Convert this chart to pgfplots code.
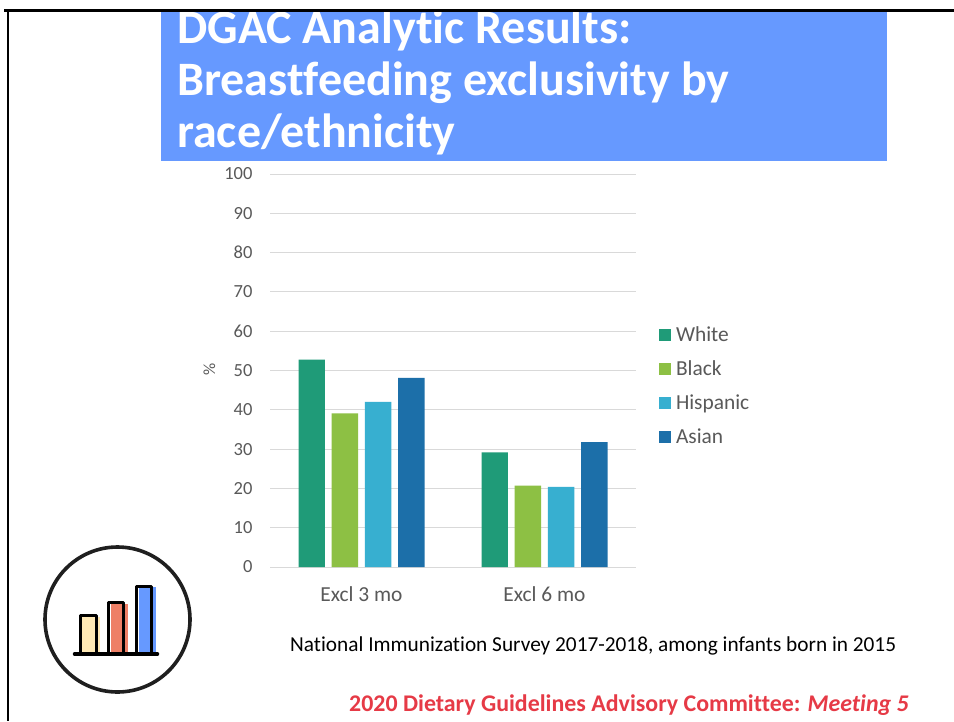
\documentclass[border=0pt]{standalone}
\usepackage{pgfplots}
\pgfplotsset{compat=1.18}
\usepackage{fontspec}
\setmainfont[Ligatures=NoCommon]{Carlito}
\definecolor{bannerblue}{HTML}{6699FF}
\definecolor{labelgray}{HTML}{595959}
\definecolor{gridgray}{HTML}{D9D9D9}
\definecolor{cWhite}{HTML}{1F9B78}
\definecolor{cBlack}{HTML}{8DC044}
\definecolor{cHispanic}{HTML}{37AFD0}
\definecolor{cAsian}{HTML}{1C6FA9}
\definecolor{footred}{HTML}{E63A46}
\definecolor{iconyellow}{HTML}{FFE9B5}
\definecolor{iconsalmon}{HTML}{EE7F66}
\begin{document}
\begin{tikzpicture}
% page, frame and banner in a top-left pixel grid
\begin{scope}[x=1pt,y=-1pt]
\path[use as bounding box] (0,0) rectangle (954,721);
\fill[white] (0,0) rectangle (954,721);
\fill[black] (4,9.3) rectangle (954,12);
\fill[black] (6.5,9.3) rectangle (9.3,721);
\begin{scope}
\clip (161,12) rectangle (887,161);
\fill[bannerblue] (161,12) rectangle (887,161);
\node[anchor=base west,inner sep=0pt,text=white,font=\fontsize{48}{52}\selectfont\bfseries] at (177,43) {DGAC Analytic Results:};
\node[anchor=base west,inner sep=0pt,text=white,font=\fontsize{48}{52}\selectfont\bfseries] at (177,95) {Breastfeeding exclusivity by};
\node[anchor=base west,inner sep=0pt,text=white,font=\fontsize{48}{52}\selectfont\bfseries] at (177,147.5) {race/ethnicity};
\end{scope}
% round chart icon
\draw[black!88,line width=3.6pt,fill=white] (117.5,619.5) circle (72.5);
\fill[iconyellow] (82,617) rectangle (100,654);
\fill[iconsalmon] (111,604) rectangle (128,654);
\fill[bannerblue] (139,587) rectangle (156,654);
\draw[black,line width=3.5pt,line join=round] (80.5,654) -- (80.5,615.5) -- (96.5,615.5) -- (96.5,654);
\draw[black,line width=3.5pt,line join=round] (108.5,654) -- (108.5,602.5) -- (123.5,602.5) -- (123.5,654);
\draw[black,line width=3.5pt,line join=round] (136.5,654) -- (136.5,586.5) -- (151.5,586.5) -- (151.5,654);
\draw[black,line width=3.5pt,line cap=round] (74.5,654) -- (157.5,654);
% source line and committee line
\node[anchor=base west,inner sep=0pt,font=\fontsize{21.3}{24}\selectfont] at (290,651.5) {National Immunization Survey 2017-2018, among infants born in 2015};
\node[anchor=base west,inner sep=0pt,text=footred,font=\fontsize{23.9}{28}\selectfont\bfseries] at (349,711) {2020 Dietary Guidelines Advisory Committee: \textit{Meeting 5}};
\end{scope}
\begin{axis}[
  at={(270pt,-567pt)}, anchor=south west,
  scale only axis, width=366pt, height=393pt,
  ybar=6.8pt, bar width=26.4pt,
  xmin=-0.5, xmax=1.5, ymin=0, ymax=100,
  xtick={0,1}, xticklabels={Excl 3 mo,Excl 6 mo},
  ytick={0,10,...,100},
  axis line style={draw=none},
  axis x line*=bottom,
  axis y line*=left,
  major tick style={draw=none},
  ymajorgrids,
  grid style={gridgray,line width=1pt},
  /pgf/number format/assume math mode=true,
  tick label style={text=labelgray},
  yticklabel style={font=\fontsize{18.5}{22}\selectfont,xshift=-14pt},
  xticklabel style={font=\fontsize{21.4}{24}\selectfont,yshift=-12pt},
  ylabel={\%},
  every axis y label/.style={at={(rel axis cs:0,0.5)},anchor=center,rotate=90,
    xshift=1.5pt,yshift=60.5pt,text=labelgray,font=\fontsize{17}{20}\selectfont},
  legend cell align=left,
  legend style={at={(389pt,242pt)},anchor=north west,draw=none,fill=none,
    font=\fontsize{21.4}{24}\selectfont,text=labelgray,
    row sep=13.7pt,inner sep=0pt,outer sep=0pt,
    /tikz/every odd column/.append style={column sep=3pt}},
  legend image code/.code={\fill[#1] (0pt,-6pt) rectangle (12pt,6pt);},
]
\addplot[fill=cWhite,draw=none] coordinates {(0,52.8) (1,29.2)};
\addplot[fill=cBlack,draw=none] coordinates {(0,39.1) (1,20.7)};
\addplot[fill=cHispanic,draw=none] coordinates {(0,42.0) (1,20.4)};
\addplot[fill=cAsian,draw=none] coordinates {(0,48.1) (1,31.8)};
\legend{White,Black,Hispanic,Asian}
\end{axis}
\end{tikzpicture}
\end{document}
